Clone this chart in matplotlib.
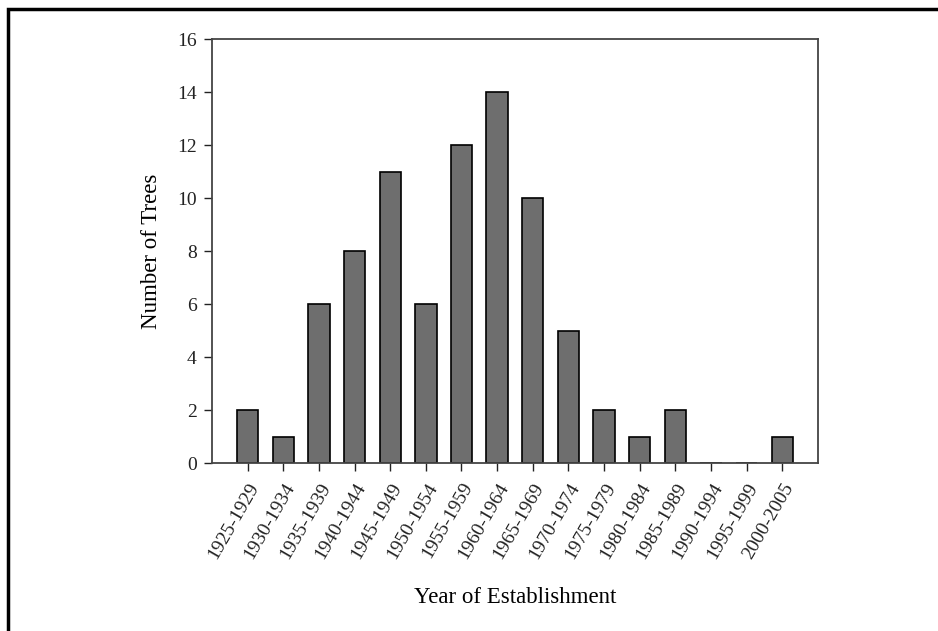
import matplotlib
matplotlib.use("Agg")
import matplotlib.pyplot as plt
from matplotlib.patches import Rectangle

# ── Data ────────────────────────────────────────────────
periods = ["1925-1929", "1930-1934", "1935-1939", "1940-1944", "1945-1949",
           "1950-1954", "1955-1959", "1960-1964", "1965-1969", "1970-1974",
           "1975-1979", "1980-1984", "1985-1989", "1990-1994", "1995-1999",
           "2000-2005"]
counts = [2, 1, 6, 8, 11, 6, 12, 14, 10, 5, 2, 1, 2, 0, 0, 1]
y_ticks = [0, 2, 4, 6, 8, 10, 12, 14, 16]

plt.rcParams["font.family"] = ["Liberation Serif", "DejaVu Serif"]

fig = plt.figure(figsize=(9.38, 6.31), dpi=100)
ax = fig.add_axes([0.226, 0.266, 0.646, 0.672])

x = list(range(len(periods)))
ax.bar(x, counts, width=0.6, color="#6e6e6e", edgecolor="black", linewidth=1.2)

ax.set_xlim(-1.0, len(periods))
ax.set_ylim(0, 16)
ax.set_yticks(y_ticks)
ax.set_xticks(x)
ax.set_xticklabels(periods, rotation=60, ha="right", rotation_mode="anchor")
ax.tick_params(axis="both", direction="out", length=6, width=1, labelsize=14,
               colors="#222222")
ax.tick_params(axis="x", pad=6)
ax.tick_params(axis="y", pad=5)

for s in ax.spines.values():
    s.set_color("#444444")
    s.set_linewidth(1.3)

ax.set_ylabel("Number of Trees", fontsize=16.5, labelpad=11)
ax.set_xlabel("Year of Establishment", fontsize=16.5, labelpad=18)

# outer frame, cropped at right and bottom
fig.patches.append(Rectangle((8 / 938, -0.1), 1.2, 1.1 - 9 / 631,
                             transform=fig.transFigure, fill=False,
                             edgecolor="black", linewidth=2.5))

fig.savefig("out.png", dpi=100)
